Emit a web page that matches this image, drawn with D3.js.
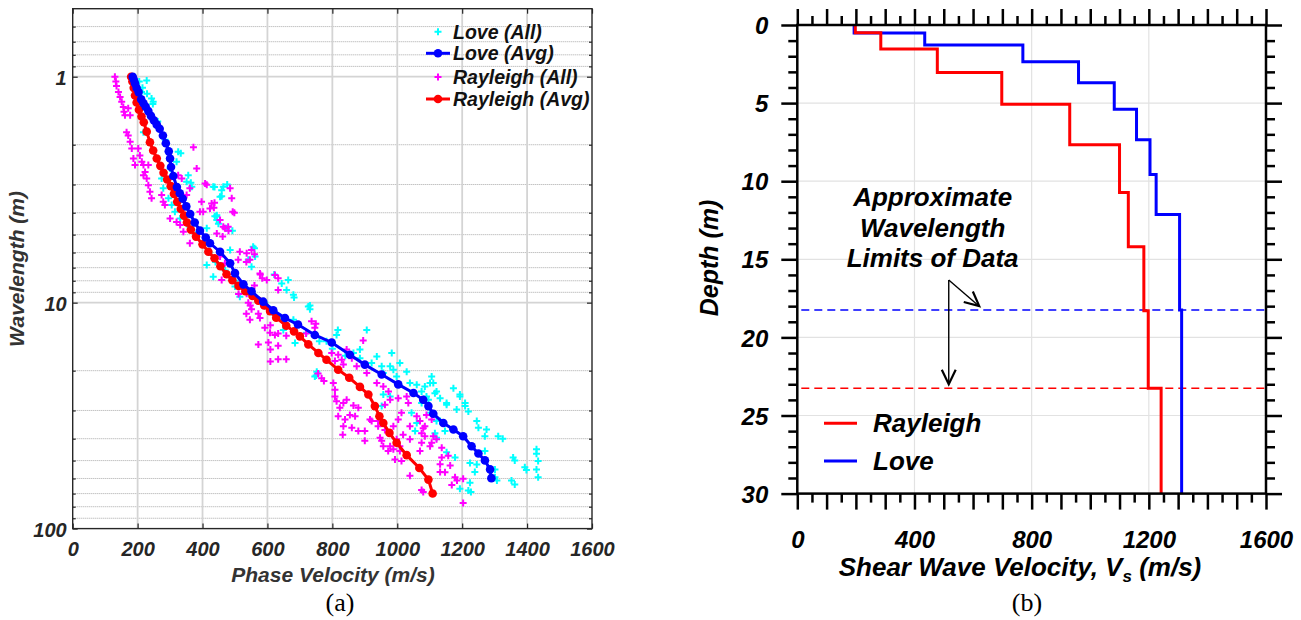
<!DOCTYPE html>
<html>
<head>
<meta charset="utf-8">
<script src="https://cdn.jsdelivr.net/npm/d3@7"></script>
<style>
  html, body { margin: 0; padding: 0; background: #fff; }
  svg text { font-family: 'Liberation Sans', Arial, sans-serif; font-weight: bold; font-style: italic; }
  svg text.caption { font-family: 'Liberation Serif', 'Times New Roman', serif; font-weight: normal; font-style: normal; }
</style>
</head>
<body>
<script>
// ---- (a) dispersion data : [phase velocity m/s, wavelength m] ----
const loveAll = [
  [228,1.04],[243,1.25],[248,1.29],[212,1.17],[218,1.76],[325,2.15],[320,2.38],[300,2.55],[351,2.92],[367,3.07],
  [356,2.73],[274,2.82],[279,3.12],[295,3.45],[305,3.70],[315,3.96],[331,4.24],[464,3.07],[454,3.40],[444,4.31],
  [474,4.69],[413,4.69],[433,3.07],[459,3.18],[459,3.38],[444,4.10],[556,5.66],[562,6.25],[551,6.93],[664,7.93],
  [680,9.22],[726,10.4],[438,4.15],[449,4.47],[541,6.46],[644,8.22],[659,8.78],[731,10.3],[731,10.7],[813,13.9],
  [413,6.81],[433,7.67],[500,8.49],[515,9.41],[485,5.84],[592,10.0],[608,10.7],[623,11.3],[680,11.9],[649,13.2],
  [685,15.1],[782,14.8],[906,13.2],[885,16.1],[937,17.3],[983,16.7],[1008,18.5],[978,19.1],[998,21.2],[957,20.5],
  [1029,20.2],[1039,22.7],[1060,23.1],[1075,24.7],[1090,26.0],[1106,21.2],[1111,22.7],[1121,24.7],[1152,27.8],[1173,23.9],
  [1193,26.0],[1209,28.7],[1183,29.7],[1132,33.4],[1147,37.0],[1121,39.6],[1060,34.1],[1055,37.0],[1101,30.7],[952,28.7],
  [752,20.2],[746,21.2],[865,16.7],[885,17.6],[921,18.5],[952,19.1],[988,19.8],[957,25.5],[978,26.0],[1044,30.7],
  [1085,23.5],[1101,22.7],[1116,25.2],[1132,26.5],[1096,26.9],[1152,28.3],[1193,25.5],[1209,27.8],[1219,30.3],[1245,33.4],
  [1250,35.8],[1275,36.4],[1270,39.0],[1311,39.0],[1270,45.3],[1301,54.7],[1301,59.2],[1239,56.2],[1224,62.6],[1219,67.9],
  [1193,66.7],[1152,45.9],[1178,48.4],[1224,51.3],[1245,52.0],[1357,48.4],[1352,61.3],[1393,53.5],[1429,44.6],[1429,46.6],
  [1434,50.2],[1429,54.7],[1434,59.2],[1121,33.4],[1116,37.8],[1075,27.8],[1325,40.0],[1362,49.9],[1398,55.1],[1362,63.8],
  [1227,68.8],[1307,61.3],[229,1.19],[247,1.32],[333,2.18],[364,2.95],[437,3.08],[476,3.0],[443,4.16],[492,4.8],
  [560,5.75],[621,7.5],[682,9.5],[817,13.2],[750,21.0],[345,4.2],[360,4.6],[380,5.0],[400,5.5],[420,6.0],
  [440,6.6],[470,7.2],[500,8.0],[540,9.0],[570,9.8],[600,10.6],[640,11.6],[720,13.6],[760,14.8],[800,16.0],
  [840,17.2],[205,1.05],[215,1.12],[262,1.58],[285,1.9]
];
const rayleighAll = [
  [130,1.0],[133,1.05],[135,1.1],[141,1.17],[146,1.23],[151,1.29],[156,1.36],[158,1.43],[161,1.48],[171,1.38],
  [177,1.48],[166,1.76],[171,1.82],[177,1.94],[182,2.08],[187,2.30],[192,2.46],[202,2.08],[207,2.23],[213,2.38],
  [218,2.46],[223,2.64],[228,2.82],[233,3.02],[238,3.23],[243,3.45],[233,2.46],[218,2.73],[274,3.34],[279,3.58],
  [284,3.70],[300,4.24],[320,4.39],[331,4.53],[341,4.85],[372,2.05],[382,2.55],[325,2.73],[336,2.82],[408,2.97],
  [361,3.12],[351,3.34],[485,3.12],[490,3.45],[493,3.96],[397,3.58],[402,3.96],[423,3.83],[454,4.31],[469,4.69],
  [479,4.61],[413,3.01],[437,3.61],[435,3.8],[498,4.0],[480,4.8],[462,5.09],[428,3.64],[392,3.96],[464,4.61],
  [444,4.94],[361,5.46],[515,5.95],[536,6.04],[510,6.46],[546,6.46],[454,6.25],[469,6.69],[577,7.42],[598,7.93],
  [623,7.55],[633,8.78],[459,7.93],[536,9.13],[541,10.0],[551,10.7],[546,11.9],[577,11.7],[592,12.9],[608,13.6],
  [623,13.9],[603,15.0],[572,15.3],[736,12.1],[746,12.9],[700,14.1],[551,5.84],[560,6.1],[535,6.6],[584,7.8],
  [633,7.8],[560,8.4],[578,7.5],[511,9.15],[547,10.3],[535,11.2],[572,11.2],[609,12.6],[633,13.7],[609,16.1],
  [633,15.5],[658,14.0],[609,18.2],[658,17.8],[633,17.8],[719,13.7],[749,12.4],[774,22.2],[756,20.6],[767,21.6],
  [803,22.7],[808,24.3],[808,26.0],[813,27.3],[834,27.8],[844,26.9],[865,28.5],[880,29.2],[823,29.2],[818,31.8],
  [839,32.9],[854,31.4],[870,31.8],[834,35.2],[860,35.8],[880,37.0],[832,38.4],[900,37.0],[916,32.9],[818,17.0],
  [829,17.9],[834,18.8],[844,16.1],[860,17.6],[808,18.1],[875,19.1],[906,20.5],[937,22.7],[957,23.5],[973,24.7],
  [978,26.9],[1003,26.5],[1029,26.0],[1034,27.8],[1013,30.7],[1003,32.9],[988,35.2],[1039,35.2],[1018,38.4],[998,40.2],
  [1039,40.2],[1090,31.4],[1106,32.9],[1085,35.2],[1111,39.0],[1106,41.7],[1075,37.8],[900,40.9],[952,40.9],[1008,43.2],
  [978,43.2],[962,28.3],[941,33.4],[798,16.7],[895,14.7],[1060,31.8],[1070,33.4],[1080,36.0],[1085,39.0],[1075,41.7],
  [1070,45.3],[1101,43.2],[1121,40.2],[1137,43.9],[1157,47.6],[1137,48.4],[1132,51.9],[1163,52.6],[1132,56.2],[1178,59.2],
  [1168,64.1],[1203,60.2],[1203,77],[1075,67.4],[1039,58.4],[1013,50.2],[993,49.4],[1008,45.3],[988,44.6],[957,43.2],
  [947,39.6],[972,45.3],[921,33.4],[941,35.2],[962,36.6],[1080,68.8],[1147,56.3],[1184,61.3]
];
const loveAvg = [
  [185,1.00],[188,1.03],[192,1.07],[197,1.12],[203,1.17],[211,1.26],[218,1.31],[225,1.36],[233,1.42],[241,1.49],
  [250,1.56],[259,1.63],[268,1.70],[278,1.82],[287,1.97],[296,2.14],[300,2.30],[303,2.51],[310,2.75],[321,3.08],
  [330,3.28],[339,3.47],[350,3.75],[362,4.05],[376,4.42],[392,4.80],[410,5.15],[423,5.46],[454,5.95],[485,6.7],
  [500,7.4],[526,8.3],[551,8.9],[587,9.9],[618,10.8],[654,11.7],[694,12.5],[746,13.9],[798,15.0],[854,17.0],
  [900,18.8],[952,20.8],[1003,23.0],[1050,25.1],[1080,26.9],[1096,28.7],[1111,31.0],[1142,34.1],[1173,36.4],[1203,39.0],
  [1229,43.2],[1250,46.5],[1270,49.9],[1286,54.7],[1290,59.8]
];
const rayleighAvg = [
  [180,1.00],[184,1.05],[188,1.12],[192,1.21],[197,1.30],[204,1.40],[212,1.50],[219,1.59],[228,1.75],[238,1.95],
  [248,2.12],[259,2.30],[270,2.48],[280,2.66],[291,2.85],[302,3.05],[312,3.30],[322,3.58],[333,3.85],[343,4.12],
  [352,4.42],[364,4.75],[380,5.10],[400,5.52],[418,5.95],[437,6.36],[455,6.90],[474,7.49],[492,7.95],[511,8.43],
  [532,8.90],[554,9.34],[572,9.80],[590,10.3],[608,10.9],[627,11.66],[658,12.65],[682,13.4],[700,14.1],[726,15.3],
  [757,16.7],[782,17.9],[818,19.8],[852,21.5],[885,23.6],[911,25.5],[931,28.7],[945,31.8],[957,34.1],[976,37.7],
  [998,41.7],[1029,47.3],[1068,53.9],[1096,60.7],[1109,69.9]
];
const velTicksA = [0, 200, 400, 600, 800, 1000, 1200, 1400, 1600];
const wlTicksA = [1, 10, 100];
const wlMinor = [0.6, 0.7, 0.8, 0.9, 2, 3, 4, 5, 6, 7, 8, 9, 20, 30, 40, 50, 60, 70, 80, 90];
const legendA = ['Love (All)', 'Love (Avg)', 'Rayleigh (All)', 'Rayleigh (Avg)'];

// ---- (b) shear wave velocity profiles : layer top depth (m) and Vs (m/s) ----
const rayleighTop = [0, 0.5, 1.54, 3.04, 5.08, 7.66, 10.72, 14.2, 18.3, 23.25];
const rayleighVs  = [198, 285, 478, 698, 930, 1100, 1130, 1183, 1198, 1242];
const loveTop = [0, 0.52, 1.28, 2.35, 3.69, 5.39, 7.34, 9.57, 12.13, 18.24];
const loveVs  = [194, 435, 770, 960, 1082, 1158, 1204, 1225, 1305, 1312];
const limitDepths = [18.24, 23.25];   // Love, Rayleigh wavelength limits
const velTicksB = [0, 400, 800, 1200, 1600];
const depthTicksB = [0, 5, 10, 15, 20, 25, 30];
const legendB = ['Rayleigh', 'Love'];

const svg = d3.select('body').append('svg').attr('width', 1301).attr('height', 620);

// =============== (a) ===============
const xA = d3.scaleLinear().domain([0, 1600]).range([72.7, 592]);
const yA = d3.scaleLog().domain([0.5, 100]).range([8.7, 528.6]);
const gA = svg.append('g');
const darkA = '#262626';

// grid
gA.append('g').selectAll('line').data(wlMinor).join('line')
  .attr('x1', xA(0)).attr('x2', xA(1600))
  .attr('y1', d => yA(d)).attr('y2', d => yA(d))
  .attr('stroke', '#a8a8a8').attr('stroke-width', 1).attr('stroke-dasharray', '1,1');
gA.append('g').selectAll('line').data(wlTicksA.slice(0, 2)).join('line')
  .attr('x1', xA(0)).attr('x2', xA(1600))
  .attr('y1', d => yA(d)).attr('y2', d => yA(d))
  .attr('stroke', '#d4d4d4').attr('stroke-width', 1.8);
gA.append('g').selectAll('line').data(velTicksA.slice(1, -1)).join('line')
  .attr('x1', d => xA(d)).attr('x2', d => xA(d))
  .attr('y1', yA(0.5)).attr('y2', yA(100))
  .attr('stroke', '#d4d4d4').attr('stroke-width', 1.8);

// axes (ticks inside, matlab style)
function styleA(g, size) {
  g.select('.domain').remove();
  g.selectAll('line').attr('stroke', darkA).attr('stroke-width', 1.2);
  g.attr('font-size', size).attr('fill', darkA);
  g.selectAll('text').attr('fill', darkA);
}
gA.append('g').attr('transform', `translate(0,${yA(100)})`)
  .call(d3.axisBottom(xA).tickValues(velTicksA).tickFormat(d3.format('d'))
    .tickSize(-5).tickSizeOuter(0).tickPadding(13))
  .call(g => styleA(g, 20));
gA.append('g').attr('transform', `translate(0,${yA(0.5)})`)
  .call(d3.axisTop(xA).tickValues(velTicksA).tickSize(-5).tickSizeOuter(0).tickFormat(''))
  .call(g => styleA(g, 20));
gA.append('g').attr('transform', `translate(${xA(0)},0)`)
  .call(d3.axisLeft(yA).tickValues(wlTicksA).tickFormat(d3.format('d')).tickSize(-5).tickSizeOuter(0).tickPadding(6))
  .call(g => styleA(g, 20))
  .call(g => g.selectAll('text').attr('dy', '0.4em'));
gA.append('g').attr('transform', `translate(${xA(0)},0)`)
  .call(d3.axisLeft(yA).tickValues(wlMinor).tickFormat('').tickSize(-3).tickSizeOuter(0))
  .call(g => styleA(g, 20));
gA.append('g').attr('transform', `translate(${xA(1600)},0)`)
  .call(d3.axisRight(yA).tickValues(wlTicksA).tickFormat('').tickSize(-5).tickSizeOuter(0))
  .call(g => styleA(g, 20));
gA.append('g').attr('transform', `translate(${xA(1600)},0)`)
  .call(d3.axisRight(yA).tickValues(wlMinor).tickFormat('').tickSize(-3).tickSizeOuter(0))
  .call(g => styleA(g, 20));

// scatter
const plus = 'M-3.5,0H3.5M0,-3.5V3.5';
gA.append('g').selectAll('path').data(loveAll).join('path')
  .attr('d', plus).attr('transform', d => `translate(${xA(d[0])},${yA(d[1])})`)
  .attr('stroke', '#00ffff').attr('stroke-width', 2).attr('fill', 'none');
gA.append('g').selectAll('path').data(rayleighAll).join('path')
  .attr('d', plus).attr('transform', d => `translate(${xA(d[0])},${yA(d[1])})`)
  .attr('stroke', '#ff00ff').attr('stroke-width', 2).attr('fill', 'none');

// averages
const lineA = d3.line().x(d => xA(d[0])).y(d => yA(d[1]));
[[rayleighAvg, '#ff0000'], [loveAvg, '#0000ff']].forEach(([data, col]) => {
  gA.append('path').datum(data).attr('d', lineA)
    .attr('fill', 'none').attr('stroke', col).attr('stroke-width', 3);
  gA.append('g').selectAll('circle').data(data).join('circle')
    .attr('cx', d => xA(d[0])).attr('cy', d => yA(d[1])).attr('r', 4.3).attr('fill', col);
});

// box
gA.append('rect').attr('x', xA(0)).attr('y', yA(0.5))
  .attr('width', xA(1600) - xA(0)).attr('height', yA(100) - yA(0.5))
  .attr('fill', 'none').attr('stroke', darkA).attr('stroke-width', 1.4);

// legend
const legA = gA.append('g');
const legRowsA = [31.7, 53.3, 77, 99];
legendA.forEach((name, i) => {
  const y = legRowsA[i];
  if (i % 2 === 0) {
    legA.append('path').attr('d', plus).attr('transform', `translate(438,${y})`)
      .attr('stroke', i === 0 ? '#00ffff' : '#ff00ff').attr('stroke-width', 2);
  } else {
    const col = i === 1 ? '#0000ff' : '#ff0000';
    legA.append('line').attr('x1', 426).attr('x2', 450).attr('y1', y).attr('y2', y)
      .attr('stroke', col).attr('stroke-width', 3);
    legA.append('circle').attr('cx', 438).attr('cy', y).attr('r', 4.3).attr('fill', col);
  }
  legA.append('text').attr('x', 453).attr('y', y).attr('dy', '0.36em')
    .attr('font-size', 19.5).attr('fill', '#111').text(name);
});

// labels
gA.append('text').attr('x', 333).attr('y', 582).attr('text-anchor', 'middle')
  .attr('font-size', 21).attr('fill', '#333').text('Phase Velocity (m/s)');
gA.append('text').attr('transform', 'translate(24,269) rotate(-90)').attr('text-anchor', 'middle')
  .attr('font-size', 21).attr('fill', '#333').text('Wavelength (m)');
svg.append('text').attr('class', 'caption').attr('x', 340).attr('y', 611)
  .attr('text-anchor', 'middle').attr('font-size', 26).text('(a)');

// =============== (b) ===============
const xB = d3.scaleLinear().domain([0, 1600]).range([797.3, 1266]);
const yB = d3.scaleLinear().domain([0, 30]).range([25, 493.6]);
const gB = svg.append('g');

gB.append('g').selectAll('line').data(velTicksB.slice(1, -1)).join('line')
  .attr('x1', d => xB(d)).attr('x2', d => xB(d)).attr('y1', yB(0)).attr('y2', yB(30))
  .attr('stroke', '#e2e2e2').attr('stroke-width', 1.2);
gB.append('g').selectAll('line').data(depthTicksB.slice(1, -1)).join('line')
  .attr('x1', xB(0)).attr('x2', xB(1600)).attr('y1', d => yB(d)).attr('y2', d => yB(d))
  .attr('stroke', '#e2e2e2').attr('stroke-width', 1.2);

// wavelength limit lines
gB.append('g').selectAll('line').data(limitDepths).join('line')
  .attr('x1', xB(0) + 4).attr('x2', xB(1600)).attr('y1', d => yB(d)).attr('y2', d => yB(d))
  .attr('stroke', (d, i) => i === 0 ? '#0000ff' : '#ff0000')
  .attr('stroke-width', 1.5).attr('stroke-dasharray', '8,5');

// step profiles
function steps(top, vs) {
  const pts = [];
  vs.forEach((v, i) => {
    pts.push([v, top[i]]);
    pts.push([v, i + 1 < top.length ? top[i + 1] : 30]);
  });
  return pts;
}
const lineB = d3.line().x(d => xB(d[0])).y(d => yB(d[1]));
gB.append('path').datum(steps(loveTop, loveVs)).attr('d', lineB)
  .attr('fill', 'none').attr('stroke', '#0000ff').attr('stroke-width', 3);
gB.append('path').datum(steps(rayleighTop, rayleighVs)).attr('d', lineB)
  .attr('fill', 'none').attr('stroke', '#ff0000').attr('stroke-width', 3);

// axes (ticks outside on all four sides)
const majorV = d3.range(0, 1601, 100), minorV = d3.range(50, 1600, 100);
const majorD = d3.range(0, 31, 5), minorD = d3.range(1, 30).filter(d => d % 5 !== 0);
function styleB(g) {
  g.select('.domain').remove();
  g.selectAll('line').attr('stroke', '#000').attr('stroke-width', 2.5);
  g.attr('font-size', 24);
  g.selectAll('text').attr('fill', '#000');
}
const fmtV = d => velTicksB.includes(d) ? d : '';
gB.append('g').attr('transform', `translate(0,${yB(30)})`)
  .call(d3.axisBottom(xB).tickValues(majorV).tickFormat(fmtV).tickSize(16).tickSizeOuter(0).tickPadding(21)).call(styleB);
gB.append('g').attr('transform', `translate(0,${yB(30)})`)
  .call(d3.axisBottom(xB).tickValues(minorV).tickFormat('').tickSize(9).tickSizeOuter(0)).call(styleB);
gB.append('g').attr('transform', `translate(0,${yB(0)})`)
  .call(d3.axisTop(xB).tickValues(majorV).tickFormat('').tickSize(16).tickSizeOuter(0)).call(styleB);
gB.append('g').attr('transform', `translate(0,${yB(0)})`)
  .call(d3.axisTop(xB).tickValues(minorV).tickFormat('').tickSize(9).tickSizeOuter(0)).call(styleB);
gB.append('g').attr('transform', `translate(${xB(0)},0)`)
  .call(d3.axisLeft(yB).tickValues(majorD).tickSize(16).tickSizeOuter(0).tickPadding(13)).call(styleB)
  .call(g => g.selectAll('text').attr('dy', '0.36em'));
gB.append('g').attr('transform', `translate(${xB(0)},0)`)
  .call(d3.axisLeft(yB).tickValues(minorD).tickFormat('').tickSize(9).tickSizeOuter(0)).call(styleB);
gB.append('g').attr('transform', `translate(${xB(1600)},0)`)
  .call(d3.axisRight(yB).tickValues(majorD).tickFormat('').tickSize(16).tickSizeOuter(0)).call(styleB);
gB.append('g').attr('transform', `translate(${xB(1600)},0)`)
  .call(d3.axisRight(yB).tickValues(minorD).tickFormat('').tickSize(9).tickSizeOuter(0)).call(styleB);

gB.append('rect').attr('x', xB(0)).attr('y', yB(0))
  .attr('width', xB(1600) - xB(0)).attr('height', yB(30) - yB(0))
  .attr('fill', 'none').attr('stroke', '#000').attr('stroke-width', 2.5);

// annotation + arrows (velocity, depth)
const noteLines = ['Approximate', 'Wavelength', 'Limits of Data'];
const noteAt = [462, 11.6];
noteLines.forEach((t, i) => {
  gB.append('text').attr('x', xB(noteAt[0])).attr('y', yB(noteAt[1]) + i * 30.5)
    .attr('text-anchor', 'middle').attr('font-size', 26).attr('fill', '#000').text(t);
});
const arrowFrom = [517, 16.32];
const arrowTips = [[621, 18.0], [517, 23.0]];
arrowTips.forEach(tip => {
  const x0 = xB(arrowFrom[0]), y0 = yB(arrowFrom[1]);
  const x1 = xB(tip[0]), y1 = yB(tip[1]);
  const a = Math.atan2(y1 - y0, x1 - x0), len = 16, half = 0.45;
  gB.append('line').attr('x1', x0).attr('y1', y0).attr('x2', x1).attr('y2', y1)
    .attr('stroke', '#000').attr('stroke-width', 1.4);
  const p1 = [x1 - len * Math.cos(a - half), y1 - len * Math.sin(a - half)];
  const p2 = [x1 - len * Math.cos(a + half), y1 - len * Math.sin(a + half)];
  gB.append('path').attr('d', `M${p1}L${x1},${y1}L${p2}`)
    .attr('fill', 'none').attr('stroke', '#000').attr('stroke-width', 2.2);
});

// legend
const legRowsB = [423.3, 461];
legendB.forEach((name, i) => {
  const y = legRowsB[i];
  gB.append('line').attr('x1', 824).attr('x2', 857).attr('y1', y).attr('y2', y)
    .attr('stroke', i === 0 ? '#ff0000' : '#0000ff').attr('stroke-width', 3);
  gB.append('text').attr('x', 873).attr('y', y + 8.5).attr('font-size', 26).attr('fill', '#000').text(name);
});

// labels
const xt = gB.append('text').attr('x', 1020).attr('y', 576).attr('text-anchor', 'middle')
  .attr('font-size', 26).attr('fill', '#000');
xt.append('tspan').text('Shear Wave Velocity, V');
xt.append('tspan').attr('font-size', 17).attr('dy', 6).text('s');
xt.append('tspan').attr('dy', -6).text(' (m/s)');
gB.append('text').attr('transform', 'translate(718,258) rotate(-90)').attr('text-anchor', 'middle')
  .attr('font-size', 25).attr('fill', '#000').text('Depth (m)');
svg.append('text').attr('class', 'caption').attr('x', 1027).attr('y', 611)
  .attr('text-anchor', 'middle').attr('font-size', 26).text('(b)');
</script>
</body>
</html>
